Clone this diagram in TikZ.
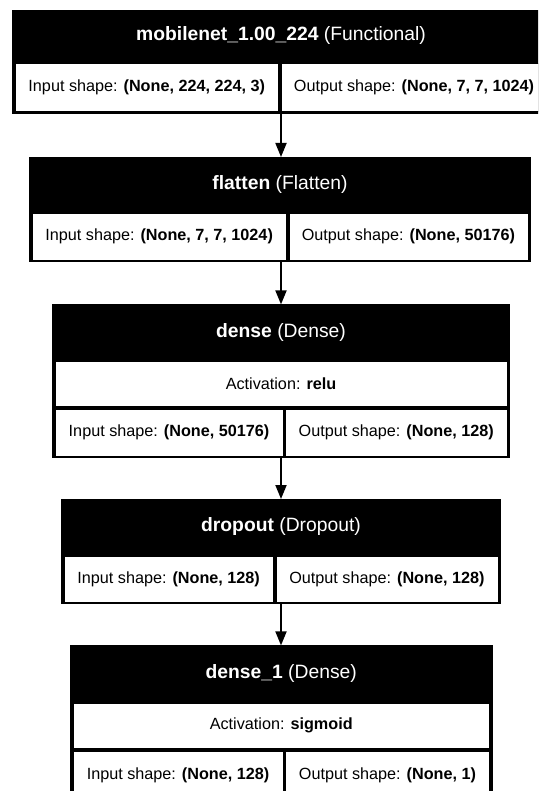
\documentclass[tikz,border=0pt]{standalone}
\usepackage{fontspec}
\setmainfont{Liberation Sans}
\usetikzlibrary{arrows.meta}

\begin{document}
\begin{tikzpicture}[x=1pt,y=-1pt,
    frame/.style={fill=black,inner sep=0pt,outer sep=0pt,anchor=north west},
    cell/.style={fill=white,draw=black,line width=0.5pt,inner sep=0pt,outer sep=0pt,
      anchor=north west,font=\fontsize{16.2}{19}\selectfont},
    head/.style={text=white,inner sep=0pt,font=\fontsize{19.3}{23}\selectfont},
    arr/.style={line width=1.8pt,-{Triangle[width=11pt,length=14pt]}}]
    \useasboundingbox (0,0) rectangle (538,791);
    \clip (0,0) rectangle (538,791);

    % mobilenet
    \node[frame,minimum width=538,minimum height=104] (mobile) at (12,10) {};
    \node[head] (mobiletitle) at (281,35.5) {\textbf{mobilenet\_1.00\_224} (Functional)};
    \node[cell,minimum width=263.5,minimum height=48.5] (mobilein) at (15,63) {Input shape: \textbf{(None, 224, 224, 3)}};
    \node[cell,minimum width=266,minimum height=48.5] (mobileout) at (281,63) {Output shape: \textbf{(None, 7, 7, 1024)}};

    % flatten
    \node[frame,minimum width=502,minimum height=105.5] (flatten) at (29,157) {};
    \node[head] (flattentitle) at (280,184.5) {\textbf{flatten} (Flatten)};
    \node[cell,minimum width=254.3,minimum height=46.5] (flattenin) at (32,213.5) {Input shape: \textbf{(None, 7, 7, 1024)}};
    \node[cell,minimum width=239.2,minimum height=46.5] (flattenout) at (288.8,213.5) {Output shape: \textbf{(None, 50176)}};

    % dense
    \node[frame,minimum width=458,minimum height=153.6] (dense) at (52,304.4) {};
    \node[head] (densetitle) at (281,332.3) {\textbf{dense} (Dense)};
    \node[cell,minimum width=452,minimum height=45.2] (denseact) at (55,361.5) {Activation: \textbf{relu}};
    \node[cell,minimum width=228,minimum height=46.6] (densein) at (55,409.4) {Input shape: \textbf{(None, 50176)}};
    \node[cell,minimum width=221.5,minimum height=46.6] (denseout) at (285.5,409.4) {Output shape: \textbf{(None, 128)}};

    % dropout
    \node[frame,minimum width=440,minimum height=105] (dropout) at (61,499) {};
    \node[head] (dropouttitle) at (281,527) {\textbf{dropout} (Dropout)};
    \node[cell,minimum width=209.3,minimum height=45.5] (dropoutin) at (64,556.5) {Input shape: \textbf{(None, 128)}};
    \node[cell,minimum width=222.2,minimum height=45.5] (dropoutout) at (275.8,556.5) {Output shape: \textbf{(None, 128)}};

    % dense_1
    \node[frame,minimum width=422.5,minimum height=160] (denseone) at (70,645.4) {};
    \node[head] (denseonetitle) at (281.25,673.4) {\textbf{dense\_1} (Dense)};
    \node[cell,minimum width=416.5,minimum height=45.4] (denseoneact) at (73,703) {Activation: \textbf{sigmoid}};
    \node[cell,minimum width=210,minimum height=49] (denseonein) at (73,750.8) {Input shape: \textbf{(None, 128)}};
    \node[cell,minimum width=204,minimum height=49] (denseoneout) at (285.5,750.8) {Output shape: \textbf{(None, 1)}};

    % connectors
    \draw[arr] (mobile.south) -- (mobile.south |- flatten.north);
    \draw[arr] (mobile.south |- flatten.south) -- (mobile.south |- dense.north);
    \draw[arr] (mobile.south |- dense.south) -- (mobile.south |- dropout.north);
    \draw[arr] (mobile.south |- dropout.south) -- (mobile.south |- denseone.north);
\end{tikzpicture}
\end{document}
